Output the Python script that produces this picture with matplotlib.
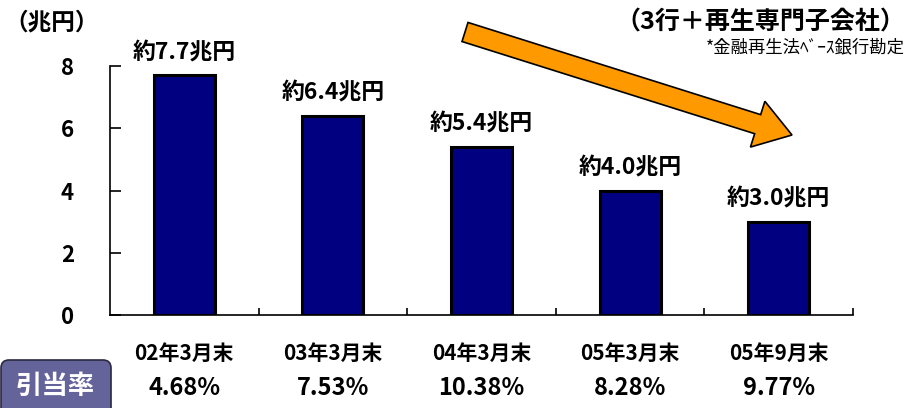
import matplotlib
matplotlib.use("Agg")
import matplotlib.pyplot as plt
from matplotlib.patches import FancyArrow, FancyBboxPatch
from matplotlib import transforms

plt.rcParams['font.family'] = ['Noto Sans CJK JP', 'DejaVu Sans']

# Data
periods = ["02年3月末", "03年3月末", "04年3月末", "05年3月末", "05年9月末"]
balances = [7.7, 6.4, 5.4, 4.0, 3.0]          # 兆円
coverage = ["4.68%", "7.53%", "10.38%", "8.28%", "9.77%"]
yticks = [0, 2, 4, 6, 8]

W, H = 910, 408
fig = plt.figure(figsize=(W / 100, H / 100), dpi=100)
ax = fig.add_axes([110 / W, 1 - 315 / H, 743 / W, 249 / H])

x = list(range(len(periods)))
ax.bar(x, balances, width=0.41, color='#000080', edgecolor='black', linewidth=2.2, zorder=3)
ax.set_xlim(-0.5, len(periods) - 0.5)
ax.set_ylim(0, 8)

for s in ('top', 'right'):
    ax.spines[s].set_visible(False)
for s in ('left', 'bottom'):
    ax.spines[s].set_linewidth(1.2)
    ax.spines[s].set_color('black')

ax.set_yticks(yticks)
ax.set_yticklabels([str(t) for t in yticks], fontsize=16, fontweight='bold')
ax.tick_params(axis='y', direction='in', length=8, width=1.2, pad=26)

# category boundaries as small inward ticks; labels sit at the centres
ax.set_xticks([i + 0.5 for i in x])
ax.set_xticklabels([])
ax.tick_params(axis='x', which='major', direction='in', length=5, width=1.2)
ax.set_xticks(x, minor=True)
ax.set_xticklabels(periods, minor=True, fontsize=15, fontweight='bold')
ax.tick_params(axis='x', which='minor', length=0, pad=20)

for xi, v in zip(x, balances):
    ax.annotate(f"約{v:.1f}兆円", (xi, v), xytext=(0, 8), textcoords='offset points',
                ha='center', va='bottom', fontsize=16.5, fontweight='bold')

# 引当率 row
row = transforms.blended_transform_factory(ax.transData, fig.transFigure)
for xi, c in zip(x, coverage):
    fig.text(xi, 1 - 388 / H, c, transform=row, ha='center', va='center',
             fontsize=17, fontweight='bold')

# overlay in pixel coordinates for decorations
ov = fig.add_axes([0, 0, 1, 1], zorder=5)
ov.set_xlim(0, W)
ov.set_ylim(H, 0)
ov.axis('off')
ov.patch.set_alpha(0)

ov.add_patch(FancyArrow(465, 32, 327, 103, width=20, head_width=48, head_length=36,
                        length_includes_head=True, facecolor='#FF9900',
                        edgecolor='black', linewidth=1.2))

ov.add_patch(FancyBboxPatch((1, 360), 110, 70, boxstyle="round,pad=0,rounding_size=8",
                            facecolor='#64649B', edgecolor='#2A2A40', linewidth=1.2))
ov.text(55, 386, "引当率", ha='center', va='center', color='white',
        fontsize=19, fontweight='bold')

ov.text(4, 22, "（兆円）", ha='left', va='center', fontsize=17, fontweight='bold')
ov.text(905, 22, "（3行＋再生専門子会社）", ha='right', va='center', fontsize=18, fontweight='bold')
ov.text(905, 47, "*金融再生法ﾍﾞｰｽ銀行勘定", ha='right', va='center', fontsize=12.5)

fig.savefig("out.png", dpi=100)
